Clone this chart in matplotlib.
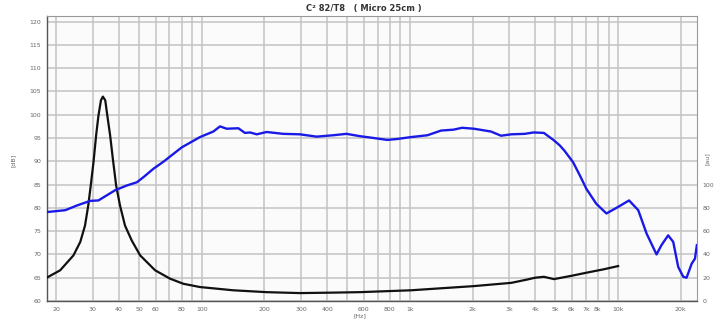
import matplotlib
matplotlib.use("Agg")
import matplotlib.pyplot as plt
import numpy as np
from matplotlib.ticker import FixedLocator, NullLocator

# SPL response (blue) [dB]
spl_freq = [18, 22.1, 25.1, 29.1, 31.9, 35.0, 38.4, 43.6, 48.8, 52.5, 58.6, 65.4,
            80.2, 98, 113.7, 122.4, 131.8, 150, 161.3, 170.6, 183.8, 205, 246, 296,
            356, 428, 496, 575, 647, 779, 870, 1010, 1215, 1410, 1620, 1780, 2030,
            2450, 2740, 3070, 3560, 3930, 4400, 4920, 5250, 5520, 6080, 6580, 7040, 7850,
            8790, 10000, 11290, 12500, 13700, 15300, 16160, 17400, 18400, 19450,
            20560, 21330, 22560, 23400, 23900]
spl_db = [79.1, 79.5, 80.5, 81.5, 81.6, 82.7, 83.8, 84.8, 85.5, 86.6, 88.4, 89.9,
          93.0, 95.2, 96.4, 97.5, 97.0, 97.1, 96.1, 96.2, 95.8, 96.3, 95.9, 95.8,
          95.3, 95.6, 95.9, 95.4, 95.1, 94.6, 94.8, 95.2, 95.6, 96.6, 96.8, 97.2, 97.0,
          96.4, 95.5, 95.8, 95.9, 96.2, 96.1, 94.5, 93.4, 92.3, 89.8, 86.8, 84.1, 80.9,
          78.8, 80.2, 81.6, 79.5, 74.5, 70.0, 72.0, 74.1, 72.7, 67.3,
          65.2, 65.0, 68.0, 69.1, 72.0]

# Impedance curve (black), drawn on dB scale
imp_freq = [18, 20.9, 24.2, 26.1, 27.5, 28.5, 29.3, 30.2, 31.1, 31.9, 32.8, 33.5,
            34.4, 35.2, 36.3, 37.4, 38.8, 40.5, 42.8, 46.1, 50.6, 59.7, 70.4, 81.6,
            98, 141.8, 205, 296, 428, 575, 1010, 2030, 3070, 3650, 3990, 4400, 4920,
            5950, 7090, 8510, 10000]
imp_db = [65.0, 66.6, 69.8, 72.7, 76.2, 80.5, 84.8, 89.8, 95.6, 99.8, 103.1, 103.9,
          103.1, 99.8, 95.6, 90.6, 84.8, 80.5, 76.2, 73.0, 69.8, 66.6, 64.8, 63.7,
          63.0, 62.3, 61.9, 61.7, 61.8, 61.9, 62.3, 63.2, 63.9, 64.6, 65.0, 65.2, 64.7,
          65.4, 66.1, 66.8, 67.5]

x_ticks = [20, 30, 40, 50, 60, 80, 100, 200, 300, 400, 600, 800, 1000,
           2000, 3000, 4000, 5000, 6000, 7000, 8000, 10000, 20000]
x_labels = ["20", "30", "40", "50", "60", "80", "100", "200", "300", "400", "600", "800", "1k",
            "2k", "3k", "4k", "5k", "6k", "7k", "8k", "10k", "20k"]
y_ticks = [60, 65, 70, 75, 80, 85, 90, 95, 100, 105, 110, 115, 120]
y2_ticks = [0, 20, 40, 60, 80, 100]

fig = plt.figure(figsize=(7.14, 3.21), dpi=100)
fig.patch.set_facecolor("white")
ax = fig.add_axes([0.0654, 0.0623, 0.9106, 0.8877])
ax.set_facecolor("#fbfbfb")

ax.set_xscale("log")
ax.set_xlim(18, 23900)
ax.set_ylim(60, 121.2)

grid_x = [v for d in (10, 100, 1000, 10000) for v in np.arange(1, 10) * d if 18 <= v <= 23900]
for gx in grid_x:
    ax.axvline(gx, color="#c4c4c4", lw=1.1, zorder=1)
for gy in y_ticks:
    ax.axhline(gy, color="#c4c4c4", lw=1.1, zorder=1)

ax.plot(imp_freq, imp_db, color="#111111", lw=1.6, zorder=3, solid_joinstyle="round")
ax.plot(spl_freq, spl_db, color="#1a1ae6", lw=1.7, zorder=4, solid_joinstyle="round")

ax.xaxis.set_major_locator(FixedLocator(x_ticks))
ax.xaxis.set_minor_locator(NullLocator())
ax.set_xticklabels(x_labels)
ax.set_yticks(y_ticks)
ax.tick_params(axis="both", which="both", length=0, labelsize=4.5, labelcolor="#666666", pad=4)

for s in ("left", "bottom"):
    ax.spines[s].set_color("#555555")
    ax.spines[s].set_linewidth(1.0)
for s in ("top", "right"):
    ax.spines[s].set_color("#999999")
    ax.spines[s].set_linewidth(0.8)

ax2 = ax.twinx()
ax2.set_ylim(0, (121.2 - 60) * 4)
ax2.set_yticks(y2_ticks)
ax2.tick_params(axis="y", length=0, labelsize=4.5, labelcolor="#666666", pad=4)
for s in ax2.spines.values():
    s.set_visible(False)

fig.text(0.018, 0.50, "[dB]", rotation=90, fontsize=4.5, color="#666666", ha="center", va="center")
fig.text(0.991, 0.505, "[au]", rotation=90, fontsize=4.5, color="#666666", ha="center", va="center")
fig.text(0.504, 0.015, "[Hz]", fontsize=4.5, color="#666666", ha="center", va="center")
fig.text(0.51, 0.972, "C\u00b2 82/T8   ( Micro 25cm )", fontsize=6, fontweight="bold",
         color="#333333", ha="center", va="center")

fig.savefig("out.png", dpi=100)
